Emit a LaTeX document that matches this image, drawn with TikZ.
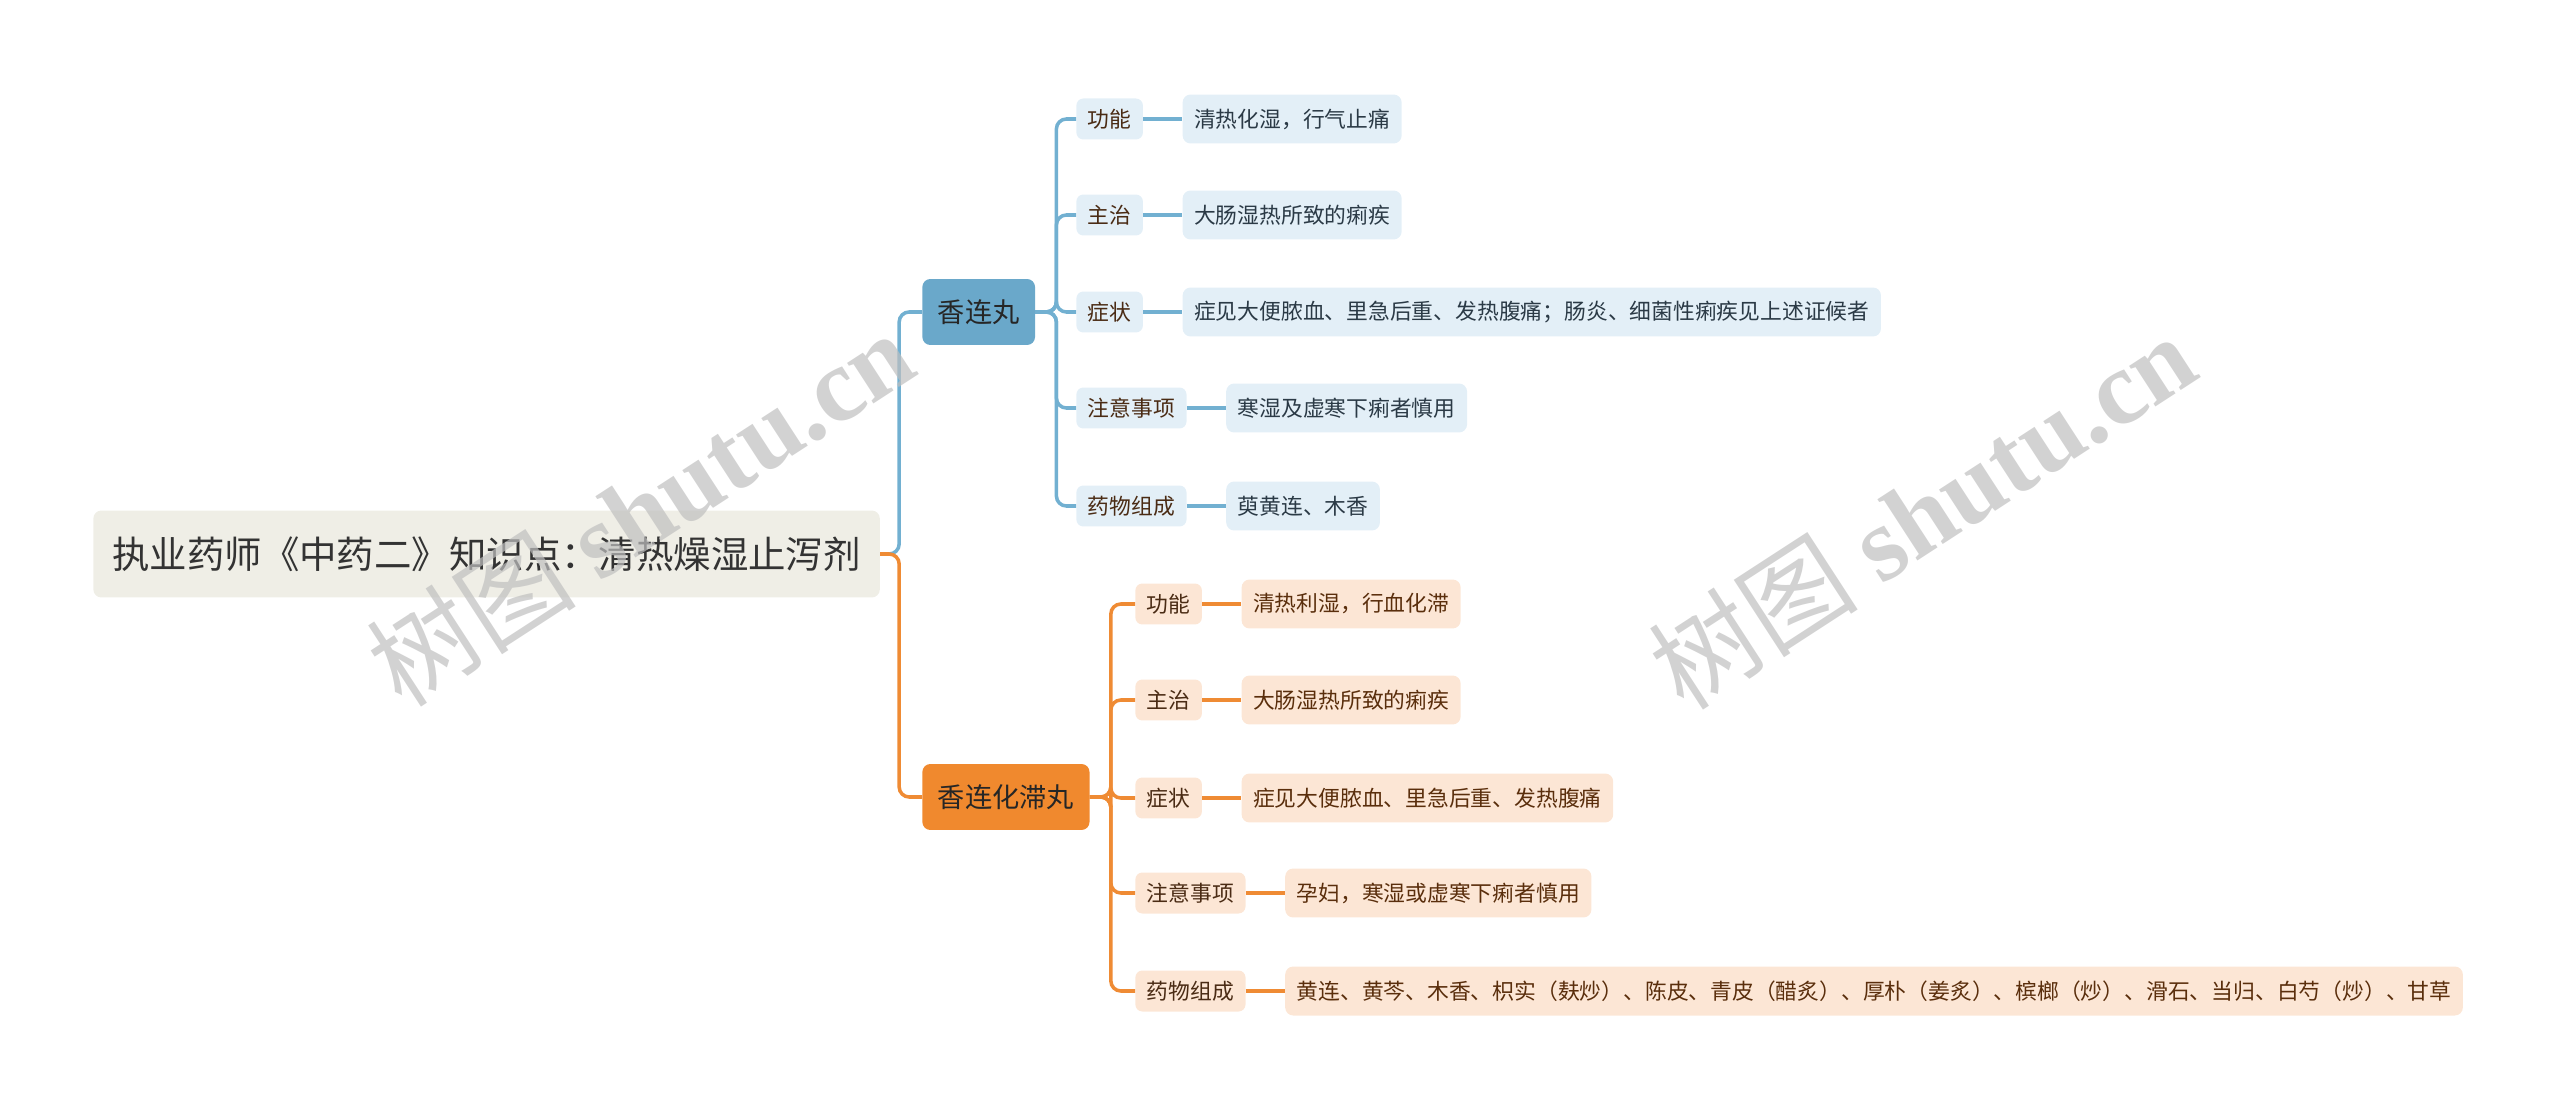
\documentclass[tikz,border=0pt]{standalone}
\usepackage{fontspec}
\setmainfont{Noto Sans CJK SC}
\newfontfamily\wmlatin{Liberation Serif}
\usetikzlibrary{positioning}

\definecolor{rootfill}{HTML}{EFEEE6}
\definecolor{bluehead}{HTML}{6AA8CA}
\definecolor{blueline}{HTML}{72B0D1}
\definecolor{bluefill}{HTML}{E3EFF7}
\definecolor{bluetext}{HTML}{2B3A46}
\definecolor{orangehead}{HTML}{F0892E}
\definecolor{orangeline}{HTML}{EF8B34}
\definecolor{orangefill}{HTML}{FCE6D5}
\definecolor{orangetext}{HTML}{5A2E0C}
\definecolor{labtext}{HTML}{4A2B14}

\tikzset{
  rootbox/.style={fill=rootfill, rounded corners=0.16cm, minimum height=1.74cm,
    inner xsep=0.38cm, text=black!80, font=\fontsize{21.3}{24}\selectfont},
  headbox/.style={rounded corners=0.16cm, minimum height=1.32cm, inner xsep=0.31cm,
    text=black!85, font=\fontsize{15.5}{18}\selectfont},
  labbox/.style={rounded corners=0.14cm, minimum height=0.82cm, inner xsep=0.23cm,
    text=labtext, font=\fontsize{12.4}{14}\selectfont},
  leafbox/.style={rounded corners=0.16cm, minimum height=0.98cm, inner xsep=0.23cm,
    font=\fontsize{12.4}{14}\selectfont},
  bluelab/.style={labbox, fill=bluefill},
  blueleaf/.style={leafbox, fill=bluefill, text=bluetext, right=0.78cm of #1},
  orangelab/.style={labbox, fill=orangefill},
  orangeleaf/.style={leafbox, fill=orangefill, text=orangetext, right=0.78cm of #1},
  bluewire/.style={draw=blueline, line width=2pt, rounded corners=0.2cm},
  orangewire/.style={draw=orangeline, line width=2pt, rounded corners=0.2cm},
  shortwire/.style={line width=2.6pt},
  watermark/.style={rotate=33, text=black!25, opacity=0.7, font=\fontsize{60}{66}\selectfont}
}

\begin{document}
\begin{tikzpicture}[x=0.02cm, y=-0.02cm]
    \useasboundingbox (0,0) rectangle (2560,1111);

    % Root
    \node[rootbox, anchor=west] (root) at (93,554) {执业药师《中药二》知识点：清热燥湿止泻剂};

    % Main branches
    \node[headbox, fill=bluehead, anchor=west] (xlw) at (922,312) {香连丸};
    \node[headbox, fill=orangehead, anchor=west] (xlhzw) at (922,797) {香连化滞丸};

    % 香连丸
    \node[bluelab, anchor=west] (bgn) at (1076,119) {功能};
    \node[bluelab, anchor=west] (bzz) at (1076,215) {主治};
    \node[bluelab, anchor=west] (bzzh) at (1076,312) {症状};
    \node[bluelab, anchor=west] (bzy) at (1076,408) {注意事项};
    \node[bluelab, anchor=west] (bzc) at (1076,506) {药物组成};
    \node[blueleaf=bgn] (bgn1) {清热化湿，行气止痛};
    \node[blueleaf=bzz] (bzz1) {大肠湿热所致的痢疾};
    \node[blueleaf=bzzh] (bzzh1) {症见大便脓血、里急后重、发热腹痛；肠炎、细菌性痢疾见上述证候者};
    \node[blueleaf=bzy] (bzy1) {寒湿及虚寒下痢者慎用};
    \node[blueleaf=bzc] (bzc1) {萸黄连、木香};

    % 香连化滞丸
    \node[orangelab, anchor=west] (ogn) at (1135,604) {功能};
    \node[orangelab, anchor=west] (ozz) at (1135,700) {主治};
    \node[orangelab, anchor=west] (ozzh) at (1135,798) {症状};
    \node[orangelab, anchor=west] (ozy) at (1135,893) {注意事项};
    \node[orangelab, anchor=west] (ozc) at (1135,991) {药物组成};
    \node[orangeleaf=ogn] (ogn1) {清热利湿，行血化滞};
    \node[orangeleaf=ozz] (ozz1) {大肠湿热所致的痢疾};
    \node[orangeleaf=ozzh] (ozzh1) {症见大便脓血、里急后重、发热腹痛};
    \node[orangeleaf=ozy] (ozy1) {孕妇，寒湿或虚寒下痢者慎用};
    \node[orangeleaf=ozc] (ozc1) {黄连、黄芩、木香、枳实（麸炒）、陈皮、青皮（醋炙）、厚朴（姜炙）、槟榔（炒）、滑石、当归、白芍（炒）、甘草};

    % Connectors
    \draw[bluewire] (root.east) -- ++(19,0) |- (xlw.west);
    \draw[orangewire] (root.east) -- ++(19,0) |- (xlhzw.west);
    \foreach \n in {bgn,bzz,bzzh,bzy,bzc}
        \draw[bluewire] (xlw.east) -- ++(21,0) |- (\n.west);
    \foreach \n in {bgn,bzz,bzzh,bzy,bzc}
        \draw[bluewire, shortwire] (\n.east) -- (\n1.west);
    \foreach \n in {ogn,ozz,ozzh,ozy,ozc}
        \draw[orangewire] (xlhzw.east) -- ++(21,0) |- (\n.west);
    \foreach \n in {ogn,ozz,ozzh,ozy,ozc}
        \draw[orangewire, shortwire] (\n.east) -- (\n1.west);

    % Watermarks
    \node[watermark] (wm1) at (640,508) {树图 {\wmlatin\bfseries shutu.cn}};
    \node[watermark] (wm2) at (1922,511) {树图 {\wmlatin\bfseries shutu.cn}};
\end{tikzpicture}
\end{document}
